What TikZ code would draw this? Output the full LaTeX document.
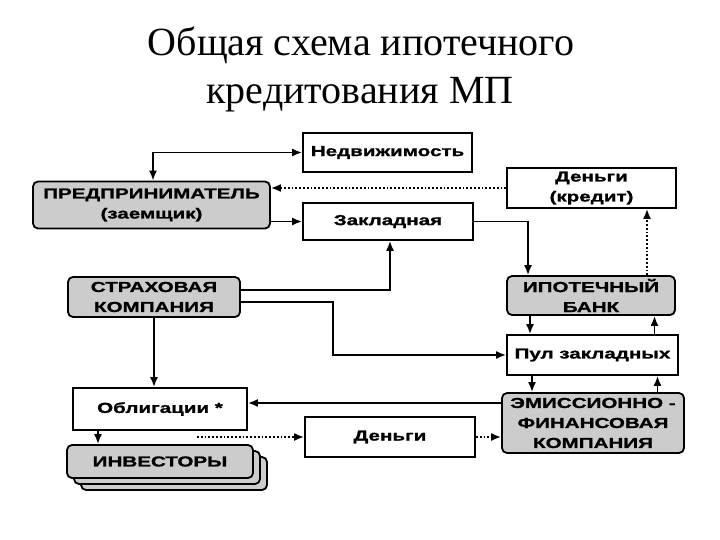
\documentclass[tikz,border=0pt]{standalone}
\usepackage{fontspec}
\setmainfont{Liberation Serif}
\newfontfamily\boxfont[FakeStretch=1.42, FakeBold=1.2]{Liberation Sans Bold}
\usetikzlibrary{arrows.meta}
\tikzset{
  plainbox/.style={draw, line width=1.8pt, fill=white, inner sep=0pt, align=center,
    font=\boxfont\fontsize{14.5}{20}\selectfont},
  graybox/.style={plainbox, fill=gray!40, rounded corners=5pt},
  arr/.style={line width=1.7pt, -{Latex[length=10pt,width=8pt]}},
  darr/.style={line width=1.7pt, {Latex[length=10pt,width=8pt]}-{Latex[length=10pt,width=8pt]}},
  dotarr/.style={line width=1.8pt, dotted, -{Latex[length=10pt,width=8pt]}},
  titlefont/.style={font=\fontsize{40}{44}\selectfont}
}
\begin{document}
\begin{tikzpicture}[x=1pt,y=-1pt]
\useasboundingbox (0,0) rectangle (720,540);
\fill[white] (0,0) rectangle (720,540);
\node[titlefont] (t1) at (361,45) {Общая схема ипотечного};
\node[titlefont] (t2) at (360,95) {кредитования МП};

\node[plainbox, minimum width=169pt, minimum height=39pt] (nedv) at (387.5,152.5) {Недвижимость};
\node[graybox, minimum width=237pt, minimum height=47pt] (pred) at (151.5,205) {ПРЕДПРИНИМАТЕЛЬ\\(заемщик)};
\node[plainbox, minimum width=169pt, minimum height=40pt] (dk) at (591.5,188) {Деньги\\(кредит)};
\node[plainbox, minimum width=170pt, minimum height=37pt] (zakl) at (388,221.5) {Закладная};
\node[graybox, minimum width=172pt, minimum height=40pt] (strah) at (154,297) {СТРАХОВАЯ\\КОМПАНИЯ};
\node[graybox, minimum width=168pt, minimum height=39pt] (ipot) at (591,295.5) {ИПОТЕЧНЫЙ\\БАНК};
\node[plainbox, minimum width=171pt, minimum height=40pt] (pul) at (592.5,355) {Пул закладных};
\node[plainbox, minimum width=174pt, minimum height=42pt] (obl) at (160,409) {Облигации *};
\node[graybox, minimum width=182pt, minimum height=60pt] (emis) at (593,423) {ЭМИССИОННО -\\ФИНАНСОВАЯ\\КОМПАНИЯ};
\node[plainbox, minimum width=170pt, minimum height=40pt] (den) at (390,437) {Деньги};
\node[graybox, minimum width=186pt, minimum height=33pt] (inv3) at (174,473.5) {};
\node[graybox, minimum width=186pt, minimum height=33pt] (inv2) at (167,467.5) {};
\node[graybox, minimum width=186pt, minimum height=33pt] (inv) at (160,461.5) {ИНВЕСТОРЫ};

% connectors
\draw[darr] (nedv.west) -| ([xshift=1.5pt]pred.north);
\draw[dotarr] (dk.west) -- (dk.west -| pred.east);
\draw[arr] (pred.east |- zakl.west) -- (zakl.west);
\draw[arr] (zakl.east) -| ([xshift=-63pt]ipot.north);
\draw[dotarr] ([xshift=56pt]ipot.north) -- ([xshift=56pt]ipot.north |- dk.south);
\draw[arr] ([yshift=7pt]strah.east) -| ([xshift=2pt]zakl.south);
\draw[arr] ([yshift=-5pt]strah.east) -- ++(92,0) |- (pul.west);
\draw[arr] (strah.south) -- (strah.south |- obl.north);
\draw[arr] ([xshift=-61pt]ipot.south) -- ([xshift=-61pt]ipot.south |- pul.north);
\draw[arr] ([xshift=62pt]pul.north) -- ([xshift=62pt]pul.north |- ipot.south);
\draw[arr] ([xshift=-60.5pt]pul.south) -- ([xshift=-60.5pt]pul.south |- emis.north);
\draw[arr] ([xshift=64.5pt]emis.north) -- ([xshift=64.5pt]emis.north |- pul.south);
\coordinate (oe) at ([yshift=6pt]obl.east);
\draw[arr] (emis.west |- oe) -- (oe);
\draw[arr] ([xshift=-62pt]obl.south) -- ([xshift=-62pt]obl.south |- inv.north);
\coordinate (ds) at (197,437);
\draw[dotarr] (ds) -- (den.west);
\draw[dotarr] (den.east) -- (den.east -| emis.west);
\end{tikzpicture}
\end{document}
